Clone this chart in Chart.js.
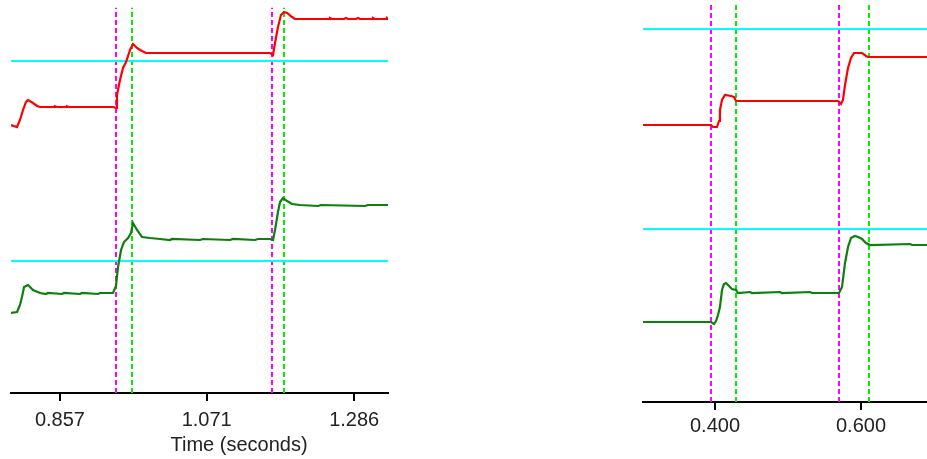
<!DOCTYPE html>
<html>
<head>
<meta charset="utf-8">
<script src="https://cdn.jsdelivr.net/npm/chart.js@4.4.0/dist/chart.umd.min.js"></script>
<style>
  body { margin:0; background:#fff; }
  canvas { position:absolute; top:0; }
  #left { left:0; }
  #right { left:633px; }
</style>
</head>
<body>
<canvas id="left" width="400" height="459"></canvas>
<canvas id="right" width="294" height="459"></canvas>
<script>
// ---------------- Data (time in seconds, level in % of panel height) ----------------
const leftTicks = [0.857, 1.071, 1.286];
const rightTicks = [0.400, 0.600];

// left panel, red trace
const leftRedT = [0.7857,0.7945,0.7988,0.8032,0.8076,0.8105,0.8178,0.8236,0.8280,0.8484,0.8498,0.8528,0.8659,0.8673,0.8703,0.9344,0.9388,0.9402,0.9446,0.9490,0.9534,0.9592,0.9636,0.9694,0.9738,0.9825,1.1633,1.1677,1.1706,1.1749,1.1793,1.1837,1.1881,1.1954,1.1997,1.2493,1.2507,1.2536,1.2712,1.2741,1.2770,1.2887,1.2916,1.2945,1.3120,1.3134,1.3163,1.3324,1.3338,1.3353];
const leftRedV = [68.19,67.68,69.47,72.01,74.05,74.55,73.79,73.03,72.77,72.77,72.95,72.77,72.77,72.95,72.77,72.77,72.52,75.83,79.64,82.70,84.22,87.28,88.80,87.79,87.28,86.51,86.51,86.01,89.06,93.13,96.18,96.95,96.69,95.67,95.17,95.17,95.40,95.17,95.17,95.40,95.17,95.17,95.40,95.17,95.17,95.40,95.17,95.17,95.40,95.17];

// left panel, green trace
const leftGreenT = [0.7857,0.7945,0.7988,0.8017,0.8047,0.8105,0.8178,0.8280,0.8367,0.8396,0.8601,0.8630,0.8863,0.8892,0.9125,0.9155,0.9344,0.9388,0.9417,0.9461,0.9504,0.9563,0.9606,0.9636,0.9694,0.9767,0.9883,1.0029,1.0175,1.0204,1.0612,1.0656,1.1050,1.1093,1.1414,1.1458,1.1633,1.1677,1.1706,1.1749,1.1779,1.1822,1.1881,1.1954,1.2070,1.2333,1.2376,1.3018,1.3061,1.3353];
const leftGreenV = [20.36,20.61,22.39,24.43,26.97,27.48,26.21,25.45,25.19,25.45,25.19,25.45,25.19,25.45,25.19,25.45,25.45,27.23,32.06,36.39,38.42,39.44,40.71,43.26,41.48,39.69,39.44,39.19,38.93,39.19,38.93,39.19,38.93,39.19,38.93,39.19,39.19,38.93,41.48,46.06,48.60,49.62,48.85,48.09,47.84,47.58,47.84,47.58,47.84,47.84];

// right panel, red trace
const rightRedT = [0.3014,0.3945,0.3973,0.4027,0.4055,0.4068,0.4096,0.4137,0.4219,0.4260,0.4288,0.5685,0.5726,0.5753,0.5781,0.5822,0.5863,0.5904,0.6014,0.6068,0.6096,0.6904];
const rightRedV = [68.91,68.91,68.41,68.41,69.90,72.64,75.12,76.37,76.12,75.87,74.88,74.88,74.13,75.12,78.86,83.08,85.57,86.82,86.82,86.07,85.82,85.82];

// right panel, green trace
const rightGreenT = [0.3014,0.3945,0.3986,0.4014,0.4041,0.4068,0.4096,0.4123,0.4151,0.4192,0.4233,0.4288,0.4315,0.4479,0.4507,0.4890,0.4918,0.5301,0.5329,0.5699,0.5740,0.5781,0.5822,0.5863,0.5918,0.5959,0.6014,0.6068,0.6123,0.6671,0.6699,0.6904];
const rightGreenV = [19.90,19.90,19.40,20.15,21.64,23.63,27.86,29.35,29.60,28.86,28.11,27.86,27.11,27.36,27.11,27.36,27.11,27.36,27.11,27.11,28.61,34.58,38.56,40.80,41.29,41.04,40.55,39.55,39.05,39.30,39.05,39.05];

// reference levels and event markers
const leftLevels = [84.48, 33.59];
const rightLevels = [92.79, 43.03];
const leftStart = [0.9388, 1.1662];
const leftEnd = [0.9621, 1.1837];
const rightStart = [0.3945, 0.5699];
const rightEnd = [0.4288, 0.6110];

// ---------------- Helpers ----------------
const FONT = "'Liberation Sans', Arial, sans-serif";

function pts(ts, vs){ return ts.map((t,i)=>({x:t, y:vs[i]})); }

function traceSet(ts, vs, color){
  return { data: pts(ts, vs), borderColor: color, borderWidth: 2.2, pointRadius: 0, tension: 0, fill: false };
}

function buildDatasets(p){
  const sets = [
    traceSet(p.redT, p.redV, '#ff0000'),
    traceSet(p.greenT, p.greenV, '#0b800b')
  ];
  p.levels.forEach(lv=>{
    sets.push({ data:[{x:p.min,y:lv},{x:p.max,y:lv}], borderColor:'#00ffff', borderWidth:2, pointRadius:0 });
  });
  p.start.forEach(t=>{
    sets.push({ data:[{x:t,y:0},{x:t,y:p.markTop}], borderColor:'#ff00ff', borderWidth:2, borderDash:[5,3], pointRadius:0 });
  });
  p.end.forEach(t=>{
    sets.push({ data:[{x:t,y:0},{x:t,y:p.markTop}], borderColor:'#00ee00', borderWidth:2, borderDash:[5,3], pointRadius:0 });
  });
  return sets;
}

const axisTitle = {
  id: 'axisTitle',
  afterDraw(chart, args, opts){
    if(!opts.text) return;
    const ctx = chart.ctx;
    ctx.save();
    ctx.font = `20px ${FONT}`;
    ctx.fillStyle = '#222';
    ctx.textAlign = 'center';
    ctx.textBaseline = 'alphabetic';
    ctx.fillText(opts.text, opts.x, opts.y);
    ctx.restore();
  }
};

function makeChart(id, p){
  return new Chart(document.getElementById(id), {
    type: 'line',
    data: { datasets: buildDatasets(p) },
    options: {
      responsive: false,
      animation: false,
      events: [],
      layout: { padding: { left: p.padLeft, right: p.padRight, top: 0, bottom: 0 } },
      plugins: { legend:{display:false}, tooltip:{enabled:false}, axisTitle: p.title || {} },
      scales: {
        x: {
          type: 'linear', min: p.min, max: p.max,
          afterBuildTicks: s => { s.ticks = p.ticks.map(v=>({value:v})); },
          afterFit: s => { s.height = p.axisH; },
          ticks: { callback: v => v.toFixed(3), color:'#222', font:{family:FONT, size:20}, padding: p.labelPad, maxRotation:0, autoSkip:false },
          grid: { drawOnChartArea:false, drawTicks:true, tickLength:8, color:'#000', lineWidth:2 },
          border: { display:true, color:'#000', width:2 }
        },
        y: { display:false, min:0, max:100 }
      }
    },
    plugins: [axisTitle]
  });
}

makeChart('left', {
  redT:leftRedT, redV:leftRedV, greenT:leftGreenT, greenV:leftGreenV,
  levels:leftLevels, start:leftStart, end:leftEnd, ticks:leftTicks,
  min:0.7857, max:1.3353, markTop:98, padLeft:11, padRight:12, axisH:66, labelPad:7,
  title:{ text:'Time (seconds)', x:239, y:451 }
});

makeChart('right', {
  redT:rightRedT, redV:rightRedV, greenT:rightGreenT, greenV:rightGreenV,
  levels:rightLevels, start:rightStart, end:rightEnd, ticks:rightTicks,
  min:0.3014, max:0.6904, markTop:99, padLeft:10, padRight:0, axisH:57, labelPad:4
});
</script>
</body>
</html>
